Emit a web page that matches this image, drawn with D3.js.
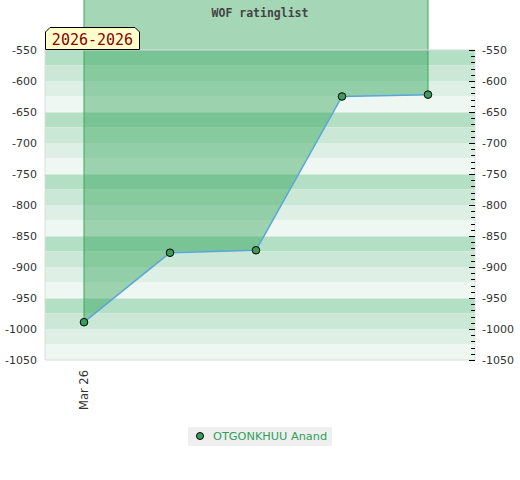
<!DOCTYPE html>
<html><head><meta charset="utf-8">
<script src="https://cdn.jsdelivr.net/npm/d3@7"></script>
<style>body{margin:0;background:#fff}svg{display:block}</style>
</head><body>
<svg id="c" width="520" height="480"></svg>
<script>
const title = "WOF ratinglist";
const periodLabel = "2026-2026";
const playerName = "OTGONKHUU Anand";
const pointIndex = [0, 1, 2, 3, 4];
const ratings = [-989, -877, -873, -625, -622];
const xTickIndex = [0];
const xTickLabels = ["Mar 26"];
const yTicks = [-550, -600, -650, -700, -750, -800, -850, -900, -950, -1000, -1050];
const bandColors = ["#b3dfc4", "#cbe8d6", "#deefe5", "#eff7f2"];

const svg = d3.select("#c");
const L = 45, R = 475, T = 50, B = 360;
const y = d3.scaleLinear().domain([-1050, -550]).range([B, T]);
const x = d3.scaleLinear().domain([0, 4]).range([84, 428]);
const data = pointIndex.map((d, i) => ({i: d, v: ratings[i]}));

// bands
const bandStarts = d3.range(-550, -1050, -25);
svg.append("g").selectAll("rect").data(bandStarts).join("rect")
  .attr("x", L).attr("width", R - L)
  .attr("y", d => y(d)).attr("height", d => y(d - 25) - y(d))
  .attr("fill", (d, k) => bandColors[k % 4]);
// grid separators
svg.append("g").selectAll("line").data([-650, -750, -850, -950]).join("line")
  .attr("x1", L).attr("x2", R).attr("y1", d => y(d)).attr("y2", d => y(d))
  .attr("stroke", "#f4f8f5").attr("stroke-width", 1);

// area from top of page to line
const area = d3.area().x(d => x(d.i)).y0(0).y1(d => y(d.v));
svg.append("path").datum(data).attr("d", area)
  .attr("fill", "rgb(40,160,80)").attr("fill-opacity", 0.42);
// side edges
svg.append("g").selectAll("line").data([data[0], data[data.length - 1]]).join("line")
  .attr("x1", d => x(d.i)).attr("x2", d => x(d.i)).attr("y1", 0).attr("y2", d => y(d.v))
  .attr("stroke", "#38a85c").attr("stroke-width", 1);

// frame
svg.append("line").attr("x1", L).attr("x2", L).attr("y1", T).attr("y2", B).attr("stroke", "#dcdcdc");
svg.append("line").attr("x1", R).attr("x2", R).attr("y1", T).attr("y2", B).attr("stroke", "#dcdcdc");
svg.append("line").attr("x1", L).attr("x2", R).attr("y1", T).attr("y2", T).attr("stroke", "#d8d8d8");
svg.append("line").attr("x1", L).attr("x2", R).attr("y1", B).attr("y2", B).attr("stroke", "#dcdcdc");

// line
svg.append("path").datum(data)
  .attr("d", d3.line().x(d => x(d.i)).y(d => y(d.v)))
  .attr("fill", "none").attr("stroke", "#5aa5dc").attr("stroke-width", 1.5);

// points
svg.append("g").selectAll("circle").data(data).join("circle")
  .attr("cx", d => x(d.i)).attr("cy", d => y(d.v)).attr("r", 3.8)
  .attr("fill", "#3a9d5d").attr("stroke", "#000").attr("stroke-width", 1);

// left axis labels
svg.append("g").selectAll("text").data(yTicks).join("text")
  .attr("x", 37).attr("y", d => y(d) + 4).attr("text-anchor", "end")
  .attr("font-family", "DejaVu Sans").attr("font-size", 11).attr("fill", "#333")
  .text(d => d);
// right axis ticks
const minor = d3.range(-550, -1051, -10);
svg.append("g").selectAll("line").data(minor).join("line")
  .attr("x1", d => d % 50 === 0 ? 469 : 471).attr("x2", 475)
  .attr("y1", d => Math.round(y(d)) + 0.5).attr("y2", d => Math.round(y(d)) + 0.5)
  .attr("stroke", "#000").attr("stroke-width", 1);
svg.append("g").selectAll("text").data(yTicks).join("text")
  .attr("x", 482).attr("y", d => y(d) + 4).attr("text-anchor", "start")
  .attr("font-family", "DejaVu Sans").attr("font-size", 11).attr("fill", "#333")
  .text(d => d);

// x tick labels
svg.append("g").selectAll("text").data(xTickIndex).join("text")
  .attr("transform", (d) => `translate(${x(d) + 4},370) rotate(-90)`)
  .attr("text-anchor", "end")
  .attr("font-family", "DejaVu Sans").attr("font-size", 11.5).attr("fill", "#333")
  .text((d, k) => xTickLabels[k]);

// title
svg.append("text").attr("x", 260).attr("y", 17).attr("text-anchor", "middle")
  .attr("font-family", "DejaVu Sans Mono").attr("font-weight", "bold").attr("font-size", 11.5)
  .attr("fill", "#444").text(title);

// period label box
const bx0 = 45, bx1 = 140, by0 = 27, by1 = 50, c = 5;
svg.append("path")
  .attr("d", `M${bx0 + 0.5},${by1 - 0.5} L${bx0 + 0.5},${by0 + c} L${bx0 + c},${by0 + 0.5} L${bx1 - c},${by0 + 0.5} L${bx1 - 0.5},${by0 + c} L${bx1 - 0.5},${by1 - 0.5} Z`)
  .attr("fill", "#ffffcc").attr("stroke", "#000").attr("stroke-width", 1);
svg.append("text").attr("x", (bx0 + bx1) / 2).attr("y", 45).attr("text-anchor", "middle")
  .attr("font-family", "DejaVu Sans Mono").attr("font-size", 15).attr("fill", "#8b0000")
  .text(periodLabel);

// legend
svg.append("rect").attr("x", 188).attr("y", 427).attr("width", 144).attr("height", 19).attr("fill", "#efefef");
svg.append("circle").attr("cx", 200).attr("cy", 436).attr("r", 3.5)
  .attr("fill", "#3a9d5d").attr("stroke", "#000").attr("stroke-width", 1);
svg.append("text").attr("x", 213).attr("y", 440).attr("font-family", "DejaVu Sans")
  .attr("font-size", 11.3).attr("fill", "#2ea05a").text(playerName);
</script>
</body></html>
